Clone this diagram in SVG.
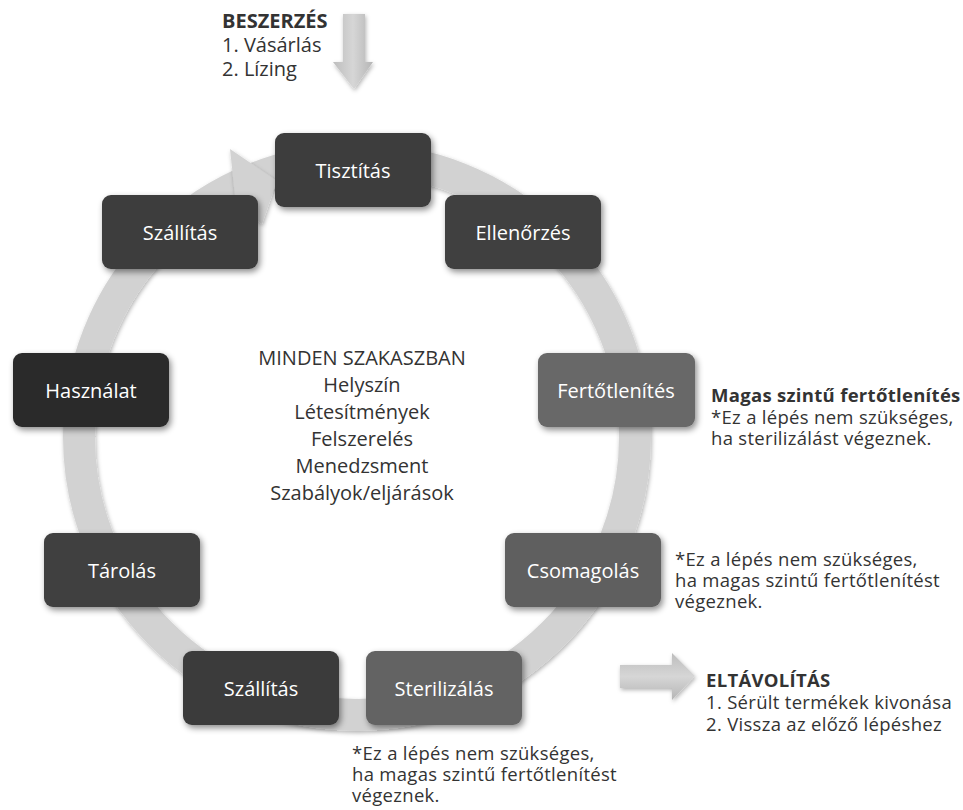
<svg xmlns="http://www.w3.org/2000/svg" width="963" height="810" viewBox="0 0 963 810">
<defs>
<filter id="sh" x="-20%" y="-20%" width="150%" height="160%">
<feDropShadow dx="2" dy="3" stdDeviation="3" flood-color="#000" flood-opacity="0.45"/>
</filter>
<filter id="sh2" x="-30%" y="-30%" width="160%" height="160%">
<feDropShadow dx="1" dy="2" stdDeviation="2" flood-color="#000" flood-opacity="0.3"/>
</filter>
<linearGradient id="gv" x1="0" y1="0" x2="1" y2="0">
<stop offset="0" stop-color="#bdbdbd"/>
<stop offset="0.5" stop-color="#d6d6d6"/>
<stop offset="1" stop-color="#b5b5b5"/>
</linearGradient>
<linearGradient id="gh" x1="0" y1="0" x2="0" y2="1">
<stop offset="0" stop-color="#bdbdbd"/>
<stop offset="0.5" stop-color="#d6d6d6"/>
<stop offset="1" stop-color="#b5b5b5"/>
</linearGradient>
</defs>
<style>
text{font-family:"Open Sans","Noto Sans","Liberation Sans",sans-serif;}
.box{filter:url(#sh);}
.lbl{fill:#ffffff;font-size:20px;text-anchor:middle;}
.note{fill:#333333;font-size:18.5px;letter-spacing:0.3px;}
.b{font-weight:bold;}
.ctr{fill:#333333;font-size:20px;text-anchor:middle;}
.ring{fill:none;stroke:#d2d2d2;stroke-width:32;}
</style>

<g id="connectors">
<circle class="ring" cx="357" cy="437" r="278" filter="url(#sh2)"/>
<polygon points="230,149 277,181 262,224 236,205" fill="#d2d2d2" filter="url(#sh2)"/>
<polygon id="arrow-in" points="343,14 365,14 365,62 373,62 354,89 333,62 343,62" fill="url(#gv)" filter="url(#sh2)"/>
<polygon id="arrow-out" points="620,665 672,665 672,653 695,676 672,700 672,688 620,688" fill="url(#gh)" filter="url(#sh2)"/>
</g>

<g id="n-tisztitas"><rect class="box" x="275" y="133" width="156" height="74" rx="9" fill="#3c3c3c"/><text class="lbl" x="353" y="178">Tisztítás</text></g>
<g id="n-szallitas1"><rect class="box" x="102" y="195" width="156" height="74" rx="9" fill="#3c3c3c"/><text class="lbl" x="180" y="240">Szállítás</text></g>
<g id="n-ellenorzes"><rect class="box" x="445" y="195" width="156" height="74" rx="9" fill="#3f3f3f"/><text class="lbl" x="523" y="240">Ellenőrzés</text></g>
<g id="n-hasznalat"><rect class="box" x="13" y="353" width="156" height="74" rx="9" fill="#2b2b2b"/><text class="lbl" x="91" y="398">Használat</text></g>
<g id="n-fertotlenites"><rect class="box" x="538" y="353" width="157" height="74" rx="9" fill="#676767"/><text class="lbl" x="616" y="398">Fertőtlenítés</text></g>
<g id="n-tarolas"><rect class="box" x="44" y="533" width="156" height="74" rx="9" fill="#3f3f3f"/><text class="lbl" x="122" y="578">Tárolás</text></g>
<g id="n-csomagolas"><rect class="box" x="505" y="533" width="156" height="74" rx="9" fill="#5f5f5f"/><text class="lbl" x="583" y="578">Csomagolás</text></g>
<g id="n-szallitas2"><rect class="box" x="183" y="651" width="156" height="74" rx="9" fill="#3a3a3a"/><text class="lbl" x="261" y="696">Szállítás</text></g>
<g id="n-sterilizalas"><rect class="box" x="366" y="651" width="156" height="74" rx="9" fill="#646464"/><text class="lbl" x="444" y="696">Sterilizálás</text></g>

<g id="center-text">
<text class="ctr" x="362" y="365">MINDEN SZAKASZBAN</text>
<text class="ctr" x="362" y="392">Helyszín</text>
<text class="ctr" x="362" y="419">Létesítmények</text>
<text class="ctr" x="362" y="446">Felszerelés</text>
<text class="ctr" x="362" y="473">Menedzsment</text>
<text class="ctr" x="362" y="500">Szabályok/eljárások</text>
</g>

<g id="beszerzes">
<text class="note b" x="222" y="28" style="font-size:20px;letter-spacing:0">BESZERZÉS</text>
<text class="note" x="222" y="52" style="font-size:20px;letter-spacing:0">1. Vásárlás</text>
<text class="note" x="222" y="76" style="font-size:20px;letter-spacing:0">2. Lízing</text>
</g>

<g id="note-fert">
<text class="note b" x="711" y="402">Magas szintű fertőtlenítés</text>
<text class="note" x="711" y="423.5">*Ez a lépés nem szükséges,</text>
<text class="note" x="711" y="445">ha sterilizálást végeznek.</text>
</g>

<g id="note-csomag">
<text class="note" x="675" y="566">*Ez a lépés nem szükséges,</text>
<text class="note" x="675" y="587">ha magas szintű fertőtlenítést</text>
<text class="note" x="675" y="608">végeznek.</text>
</g>

<g id="eltavolitas">
<text class="note b" x="706" y="687">ELTÁVOLÍTÁS</text>
<text class="note" x="706" y="709">1. Sérült termékek kivonása</text>
<text class="note" x="706" y="731">2. Vissza az előző lépéshez</text>
</g>

<g id="note-steril">
<text class="note" x="352" y="760">*Ez a lépés nem szükséges,</text>
<text class="note" x="352" y="781">ha magas szintű fertőtlenítést</text>
<text class="note" x="352" y="802">végeznek.</text>
</g>
</svg>
